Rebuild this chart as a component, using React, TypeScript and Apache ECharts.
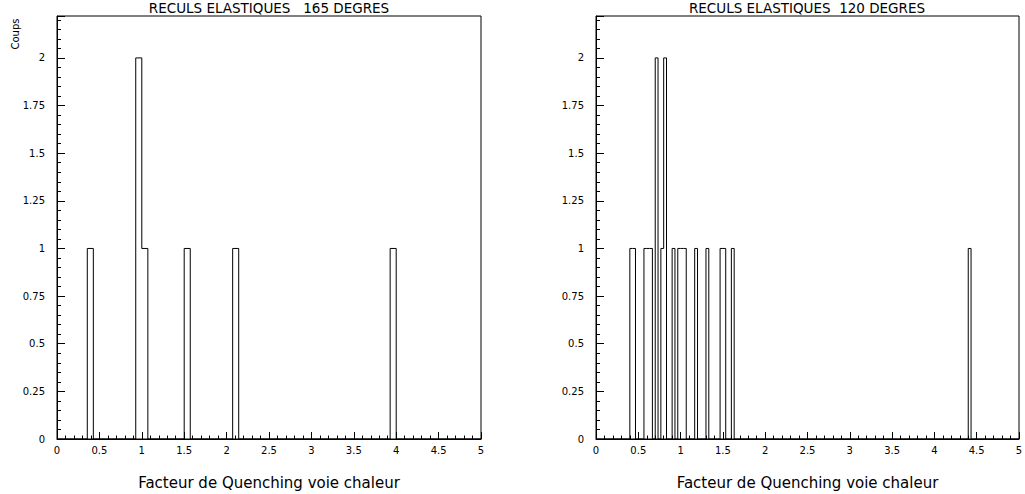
import React, { useEffect, useRef } from 'react';
import * as echarts from 'echarts';

const TITLE_LEFT = 'RECULS ELASTIQUES   165 DEGRES';
const TITLE_RIGHT = 'RECULS ELASTIQUES  120 DEGRES';
const X_NAME = 'Facteur de Quenching voie chaleur';
const Y_NAME = 'Coups';

const X_MIN = 0;
const X_MAX = 5;
const Y_MAX = 2.22;

// Left histogram (165 deg): 70 bins over [0,5]
const LEFT_NBINS = 70;
const LEFT_BIN_INDEX = [5, 13, 14, 21, 29, 55];
const LEFT_BIN_COUNT = [1, 2, 1, 1, 1, 1];

// Right histogram (120 deg): 150 bins over [0,5]
const RIGHT_NBINS = 150;
const RIGHT_BIN_INDEX = [12, 13, 17, 18, 19, 21, 23, 24, 27, 29, 30, 31, 35, 39, 44, 45, 48, 132];
const RIGHT_BIN_COUNT = [1, 1, 1, 1, 1, 2, 1, 2, 1, 1, 1, 1, 1, 1, 1, 1, 1, 1];

const FONT = 'DejaVu Sans';

function buildOutline(nbins: number, idx: number[], cnt: number[]) {
  const w = (X_MAX - X_MIN) / nbins;
  const counts: number[] = new Array(nbins).fill(0);
  idx.forEach((b, k) => {
    counts[b] = cnt[k];
  });
  const pts: number[][] = [];
  for (let i = 0; i < nbins; i++) pts.push([X_MIN + i * w, counts[i]]);
  pts.push([X_MAX, 0]);
  return pts;
}

const GRIDS = [
  { left: 57, top: 16, width: 424, height: 423 },
  { left: 596, top: 16, width: 423, height: 423 },
];

function xAxis(gi: number) {
  return {
    gridIndex: gi,
    type: 'value',
    position: 'bottom',
    min: X_MIN,
    max: X_MAX,
    interval: 0.5,
    axisLine: { show: true, onZero: false, lineStyle: { color: '#000', width: 1 } },
    axisTick: { show: true, inside: true, length: 7, lineStyle: { color: '#000', width: 1 } },
    minorTick: { show: true, splitNumber: 5, length: 3.5, lineStyle: { color: '#000', width: 1 } },
    splitLine: { show: false },
    minorSplitLine: { show: false },
    axisLabel: { color: '#000', fontSize: 10, fontFamily: FONT, margin: 6 },
    name: X_NAME,
    nameLocation: 'middle',
    nameGap: 36,
    nameTextStyle: { color: '#000', fontSize: 15, fontFamily: FONT },
  };
}

function yAxis(gi: number) {
  return {
    gridIndex: gi,
    type: 'value',
    position: 'left',
    min: 0,
    max: Y_MAX,
    interval: 0.25,
    axisLine: { show: true, onZero: false, lineStyle: { color: '#000', width: 1 } },
    axisTick: { show: true, inside: true, length: 8, lineStyle: { color: '#000', width: 1 } },
    minorTick: { show: true, splitNumber: 5, length: 4, lineStyle: { color: '#000', width: 1 } },
    splitLine: { show: false },
    minorSplitLine: { show: false },
    axisLabel: { color: '#000', fontSize: 10, fontFamily: FONT, margin: 12, showMaxLabel: false },
  };
}

export default function App() {
  const ref = useRef<HTMLDivElement>(null);
  useEffect(() => {
    if (!ref.current) return;
    const chart = echarts.init(ref.current, undefined, { renderer: 'svg' });
    chart.setOption({
      animation: false,
      backgroundColor: '#fff',
      grid: GRIDS.map((g) => ({
        ...g,
        show: true,
        containLabel: false,
        outerBoundsMode: 'none',
        borderColor: '#000',
        borderWidth: 1,
        backgroundColor: 'transparent',
      })),
      xAxis: [xAxis(0), xAxis(1)],
      yAxis: [yAxis(0), yAxis(1)],
      series: [
        {
          type: 'line',
          xAxisIndex: 0,
          yAxisIndex: 0,
          step: 'end',
          symbol: 'none',
          z: 1,
          lineStyle: { color: '#000', width: 1 },
          data: buildOutline(LEFT_NBINS, LEFT_BIN_INDEX, LEFT_BIN_COUNT),
        },
        {
          type: 'line',
          xAxisIndex: 1,
          yAxisIndex: 1,
          step: 'end',
          symbol: 'none',
          z: 1,
          lineStyle: { color: '#000', width: 1 },
          data: buildOutline(RIGHT_NBINS, RIGHT_BIN_INDEX, RIGHT_BIN_COUNT),
        },
      ],
      graphic: [
        {
          type: 'text',
          x: 269,
          y: 8,
          style: { text: TITLE_LEFT, fill: '#000', font: `13.5px "${FONT}"`, textAlign: 'center', textVerticalAlign: 'middle' },
        },
        {
          type: 'text',
          x: 807,
          y: 8,
          style: { text: TITLE_RIGHT, fill: '#000', font: `13.5px "${FONT}"`, textAlign: 'center', textVerticalAlign: 'middle' },
        },
        {
          type: 'text',
          x: 15,
          y: 34,
          rotation: Math.PI / 2,
          style: { text: Y_NAME, fill: '#000', font: `10px "${FONT}"`, textAlign: 'center', textVerticalAlign: 'middle' },
        },
      ],
    });
    return () => chart.dispose();
  }, []);
  return <div ref={ref} style={{ position: 'fixed', left: 0, top: 0, width: 1025, height: 494 }} />;
}
